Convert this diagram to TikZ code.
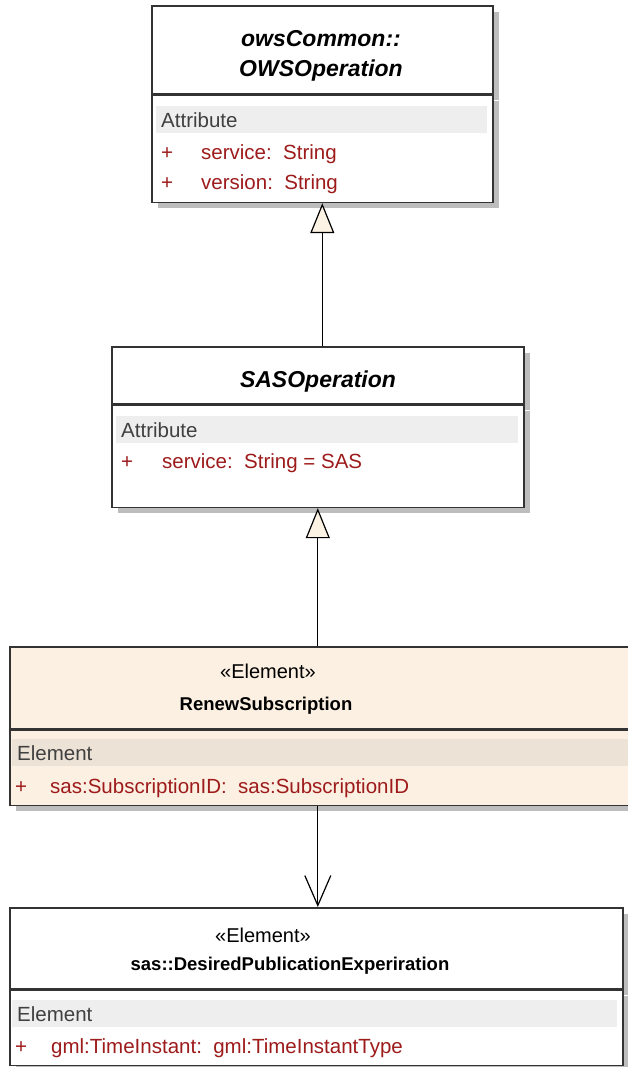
\documentclass[tikz,border=0pt]{standalone}
\usepackage{fontspec}
\setmainfont{Liberation Sans}
\usetikzlibrary{positioning,arrows.meta,shadows}
\definecolor{umlred}{HTML}{9E1B1B}
\definecolor{labgray}{HTML}{404040}
\definecolor{bandgray}{HTML}{EEEEEE}
\definecolor{bandtan}{HTML}{ECE2D5}
\definecolor{elemfill}{HTML}{FBF0E2}
\definecolor{shadowgray}{HTML}{BDBDBD}
\definecolor{tipfill}{HTML}{FDF3E4}

\begin{document}
\begin{tikzpicture}[
  x=1pt, y=-1pt,
  >={Triangle[length=30pt,width=24pt,fill=tipfill]},
  cls/.style={draw=black!80, line width=1.6pt, fill=white, inner sep=0pt, anchor=north west,
              drop shadow={shadow xshift=6pt, shadow yshift=-6pt, fill=shadowgray, opacity=1}},
  ttl/.style={font=\fontsize{23}{27}\selectfont\bfseries\itshape, anchor=base},
  nm/.style={font=\fontsize{18.5}{22}\selectfont\bfseries, anchor=base},
  stereo/.style={font=\fontsize{20}{24}\selectfont, anchor=base},
  band/.style={fill=bandgray, inner xsep=5pt, inner ysep=0pt, minimum height=27pt, anchor=north west,
               align=left, text=labgray, font=\fontsize{20.5}{24}\selectfont},
  plus/.style={font=\fontsize{20.5}{24}\selectfont, text=umlred, anchor=base},
  attr/.style={font=\fontsize{20.5}{24}\selectfont, text=umlred, anchor=base west, inner sep=0pt},
  gen/.style={->, line width=1.2pt, draw=black},
  assoc/.style={-{Straight Barb[length=30pt,width=26pt]}, line width=1.2pt},
]
\useasboundingbox (0,0) rectangle (628,1067);

% ---- owsCommon::OWSOperation ----
\node[cls, minimum width=341pt, minimum height=88pt] (owsHead) at (151,5) {};
\node[cls, minimum width=341pt, minimum height=107pt, below=0pt of owsHead] (owsBody) {};
\node[ttl] (owsName1) at (321,47) {owsCommon::};
\node[ttl] (owsName2) at (321,77) {OWSOperation};
\node[band, minimum width=331pt, text width=321pt] (owsBand) at (156,106) {Attribute};
\node[plus] (owsPlus1) at (167,160) {+};
\node[attr] (owsAttr1) at (201,160) {service:\ \ String};
\node[plus] (owsPlus2) at (167,190) {+};
\node[attr] (owsAttr2) at (201,190) {version:\ \ String};

% ---- SASOperation ----
\node[cls, minimum width=412pt, minimum height=57pt] (sasHead) at (111,346) {};
\node[cls, minimum width=412pt, minimum height=102pt, below=0pt of sasHead] (sasBody) {};
\node[ttl] (sasName) at (318,387) {SASOperation};
\node[band, minimum width=402pt, text width=392pt] (sasBand) at (116,416) {Attribute};
\node[plus] (sasPlus1) at (127,468) {+};
\node[attr] (sasAttr1) at (162,468) {service:\ \ String = SAS};

% ---- RenewSubscription (runs past the right edge) ----
\node[cls, fill=elemfill, minimum width=660pt, minimum height=82pt] (renHead) at (9,646) {};
\node[cls, fill=elemfill, minimum width=660pt, minimum height=75pt, below=0pt of renHead] (renBody) {};
\node[stereo] (renStereo) at (268,678) {«Element»};
\node[nm] (renName) at (266,710) {RenewSubscription};
\node[band, fill=bandtan, minimum width=650pt, text width=640pt] (renBand) at (12,739) {Element};
\node[plus] (renPlus1) at (21,793) {+};
\node[attr] (renAttr1) at (50,793) {sas:SubscriptionID:\ \ sas:SubscriptionID};

% ---- sas::DesiredPublicationExperiration ----
\node[cls, minimum width=613pt, minimum height=81pt] (desHead) at (9,907) {};
\node[cls, minimum width=613pt, minimum height=75pt, below=0pt of desHead] (desBody) {};
\node[stereo] (desStereo) at (263,942) {«Element»};
\node[nm] (desName) at (290,970) {sas::DesiredPublicationExperiration};
\node[band, minimum width=605pt, text width=595pt] (desBand) at (12,1000) {Element};
\node[plus] (desPlus1) at (21,1053) {+};
\node[attr] (desAttr1) at (51,1053) {gml:TimeInstant:\ \ gml:TimeInstantType};

% ---- connectors ----
\draw[gen] (sasHead.north -| owsBody.south) -- (owsBody.south);
\draw[gen] (renHead.north -| sasBody.south) -- (sasBody.south);
\draw[assoc] (renBody.south -| sasBody.south) -- (desHead.north -| sasBody.south);
\end{tikzpicture}
\end{document}
